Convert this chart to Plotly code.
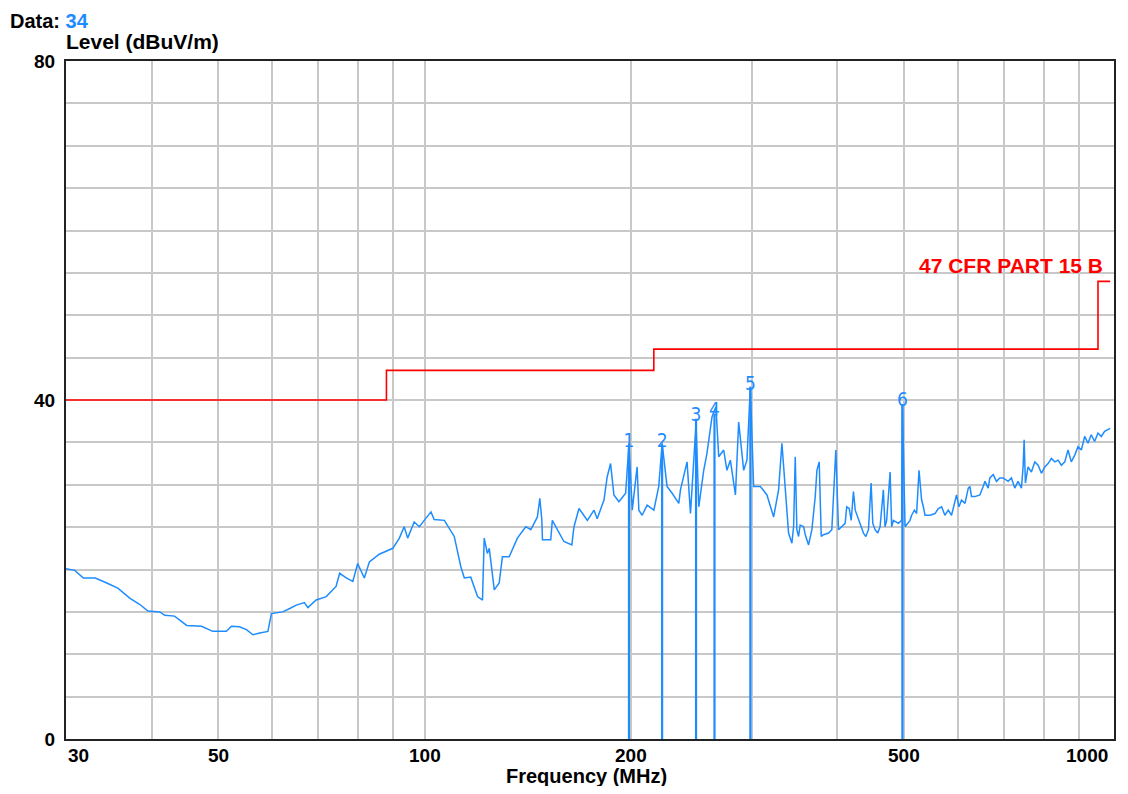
import numpy as np
import plotly.graph_objects as go

# ---- measured trace (MHz, dBuV/m) ----
freq = [30, 30.9, 31.8, 33.1, 34.4, 35.7, 37.2, 38.4, 39.5, 41.1, 41.8, 43.2, 45.0, 47.3, 49.1, 51.4,
        52.3, 53.7, 55.0, 56.2, 57.5, 59.1, 59.8, 62.1, 63.6, 65.0, 66.8, 67.6, 69.5, 71.9, 74.3, 75.2,
        76.9, 78.6, 79.9, 81.7, 83.1, 85.9, 89.9,
        91.9, 93.4, 94.5, 96.6, 98.3, 99.9, 102.2, 103.3, 106.9, 110.5, 113.0, 114.3, 116.8, 119.5, 121.5,
        122.2, 123.5, 124.3, 126.4, 128.5, 129.9, 132.9, 136.6, 140.5, 142.9, 144.5, 146.1, 147.3, 148.3,
        148.6, 152.8, 153.6, 156.2, 159.7, 164.0, 165.2, 168.0, 172.8, 176.7, 178.6, 182.7, 184.7, 186.8,
        188.9,
        192.1, 196.5, 198.7, 200.9, 204.2, 205.4, 207.7, 211.2, 216.0, 219.6, 222.1, 225.8, 229.7, 234.9,
        236.2, 241.5, 244.3, 247.0, 248.9, 251.2, 255.4, 258.2, 261.2, 262.6, 264.8, 266.1, 268.6, 273.1,
        276.1, 279.3, 284.1, 287.2, 292.1, 295.3, 298.7, 302.0, 308.9, 315.8, 323.0,
        328.4, 332.1, 335.8, 337.7, 339.6, 343.4, 345.4, 347.3, 349.2, 351.2, 353.1, 357.2, 359.2, 363.2,
        367.3, 371.4, 373.5, 376.4, 379.0, 381.9, 388.4, 392.7, 395.1, 398.0, 401.6, 405.9, 410.7, 412.8,
        416.3, 419.1, 422.3, 424.8, 429.4, 433.4, 436.7, 440.2, 444.1, 448.1, 450.6, 454.1, 458.2, 461.8,
        466.9, 469.5, 472.1, 477.6, 480.1, 482.9, 491.0, 496.5, 497.7, 502.2, 510.6, 513.4, 518.2, 522.1,
        526.3, 530.9, 534.0, 537.0, 546.1, 555.3,
        561.6, 567.8, 574.1, 580.7, 587.0, 593.7, 597.0, 601.8, 607.1, 614.1, 621.0, 624.4, 627.7, 635.0,
        645.7, 652.8, 656.8, 663.9, 667.7, 675.2, 682.7, 690.3, 698.1, 709.9, 717.8, 725.9, 734.1, 742.3,
        746.5, 749.1, 752.3, 759.1, 767.6, 776.5, 785.1, 793.8, 802.9, 811.9, 820.9, 830.4, 839.6, 848.9,
        858.6, 868.1, 877.8, 887.8, 897.7, 907.9, 918.0, 928.3, 938.5, 949.1, 959.9, 970.5, 981.6, 1000]
level = [20.1, 19.9, 19.0, 19.0, 18.4, 17.8, 16.6, 15.9, 15.1, 15.0, 14.6, 14.5, 13.4, 13.3, 12.7, 12.7,
         13.3, 13.25, 12.9, 12.3, 12.5, 12.7, 14.8, 15.0, 15.4, 15.8, 16.1, 15.5, 16.4, 16.8, 18.0, 19.55,
         19.0, 18.6, 20.7, 19.0, 20.9, 21.8, 22.5,
         23.7, 25.05, 23.7, 25.6, 25.05, 25.8, 26.8, 25.9, 25.8, 23.9, 20.3, 19.0, 19.1, 16.8, 16.4,
         23.7, 21.9, 22.5, 17.6, 18.4, 21.5, 21.5, 23.7, 25.05, 24.7, 25.45, 26.2, 28.4, 25.8,
         23.5, 23.5, 25.8, 24.7, 23.3, 22.9, 25.05, 27.2, 25.8, 27.0, 26.0, 28.2, 30.95, 32.5,
         28.8,
         28.0, 29.0, 34.9, 27.0, 32.1, 27.0, 26.4, 27.6, 27.0, 29.8, 34.9, 29.8, 29.0, 27.8,
         29.4, 32.7, 26.6, 32.9, 37.25, 27.4, 31.7, 33.7, 36.5, 38.0, 38.8, 39.2, 33.3, 34.1,
         31.7, 32.9, 28.8, 37.4, 31.7, 32.9, 41.6, 29.8, 29.8, 28.8, 26.2,
         29.4, 34.9, 29.8, 26.2, 24.3, 23.1, 25.05, 33.3, 24.7, 23.9, 25.25, 25.05, 24.1, 22.9,
         24.7, 28.6, 31.7, 32.7, 23.9, 24.1, 24.3, 24.7, 29.8, 34.1, 24.7, 25.05, 25.45, 27.4,
         27.2, 25.8, 29.2, 27.0, 25.8, 25.05, 24.3, 23.9, 24.7, 30.2, 25.45, 24.7, 24.3, 25.05,
         29.4, 25.05, 25.8, 31.5, 25.05, 25.8, 25.45, 25.8, 39.5, 25.05, 25.8, 26.4, 27.0, 26.6,
         31.7, 28.2, 27.4, 26.4, 26.4, 26.6,
         27.2, 27.4, 26.4, 27.0, 26.4, 27.8, 28.8, 27.4, 28.2, 27.8, 29.6, 29.8, 28.6, 28.6,
         28.8, 29.8, 30.4, 29.6, 30.8, 31.2, 30.4, 30.8, 30.8, 30.4, 30.8, 29.6, 30.4, 29.6,
         32.1, 35.3, 30.2, 32.1, 31.5, 32.7, 32.3, 31.35, 32.1, 32.5, 33.1, 32.7, 32.9, 32.3,
         32.7, 34.1, 32.7, 33.5, 34.5, 34.1, 35.7, 34.9, 35.9, 35.1, 36.1, 35.7, 36.3, 36.65]

# ---- limit line: 47 CFR Part 15 B ----
limit_freq = [30, 88, 88, 216, 216, 960, 960, 1000]
limit_level = [40, 40, 43.5, 43.5, 46, 46, 54, 54]
limit_name = "47 CFR PART 15 B"

# ---- markers ----
marker_label = ["1", "2", "3", "4", "5", "6"]
marker_freq = [198.7, 222.1, 248.9, 264.8, 298.7, 497.7]
marker_level = [34.7, 34.7, 37.8, 38.4, 41.5, 39.5]

# ---- axis ticks ----
x_grid = [40, 50, 60, 70, 80, 90, 100, 200, 300, 400, 500, 600, 700, 800, 900]
x_labels = [30, 50, 100, 200, 500, 1000]
y_grid = list(range(0, 81, 5))
y_labels = {0: "0", 40: "40", 80: "80"}

BLUE = "#1E8CFF"
RED = "#FF0000"
FONT = "Liberation Sans, Arial, sans-serif"

fig = go.Figure()

# markers' vertical lines
mx, my = [], []
for f, v in zip(marker_freq, marker_level):
    mx += [f, f, None]
    my += [0, v, None]
fig.add_trace(go.Scatter(x=mx, y=my, mode="lines", line=dict(color=BLUE, width=2.2),
                         hoverinfo="skip", showlegend=False))

fig.add_trace(go.Scatter(x=freq, y=level, mode="lines", line=dict(color=BLUE, width=1.5),
                         showlegend=False))

fig.add_trace(go.Scatter(x=limit_freq, y=limit_level, mode="lines", line=dict(color=RED, width=1.6),
                         showlegend=False))

fig.add_trace(go.Scatter(x=marker_freq, y=[v + 0.3 for v in marker_level], mode="text",
                         text=marker_label, textposition="middle center",
                         textfont=dict(family="Liberation Sans Narrow, DejaVu Sans Condensed, sans-serif",
                                       size=19, color=BLUE),
                         showlegend=False, hoverinfo="skip"))

annotations = []
for v in x_labels:
    anchor = "center"
    if v == x_labels[0]:
        anchor = "left"
    elif v == x_labels[-1]:
        anchor = "right"
    annotations.append(dict(x=np.log10(v), y=0, xref="x", yref="paper", text=str(v),
                            showarrow=False, xanchor=anchor, yanchor="top", yshift=-4,
                            font=dict(family=FONT, size=19, color="black", weight="bold")))

annotations += [
    dict(x=1.0, y=0.698, xref="paper", yref="paper", xanchor="right", yanchor="middle", xshift=-9,
         text=limit_name, showarrow=False, font=dict(family=FONT, size=21, color=RED, weight="bold")),
    dict(x=-0.002, y=1.029, xref="paper", yref="paper", xanchor="left", yanchor="middle",
         text="Level (dBuV/m)", showarrow=False, font=dict(family=FONT, size=21, color="black", weight="bold")),
    dict(x=-0.0555, y=1.059, xref="paper", yref="paper", xanchor="left", yanchor="middle",
         text="Data: <span style='color:#1E8CFF'>34</span>", showarrow=False,
         font=dict(family=FONT, size=20, color="black", weight="bold")),
    dict(x=0.497, y=-0.0546, xref="paper", yref="paper", xanchor="center", yanchor="middle",
         text="Frequency (MHz)", showarrow=False, font=dict(family=FONT, size=20, color="black", weight="bold")),
]

fig.update_layout(
    width=1112, height=778,
    margin=dict(l=58, r=4, t=53, b=47),
    paper_bgcolor="white", plot_bgcolor="white",
    annotations=annotations,
    showlegend=False,
)
fig.update_xaxes(type="log", range=[np.log10(30), np.log10(1013)],
                 tickvals=x_grid, ticktext=[""] * len(x_grid),
                 showgrid=True, gridcolor="#C8C8C8", gridwidth=1.5,
                 showline=True, mirror=True, linecolor="#222222", linewidth=2,
                 zeroline=False, ticks="")
fig.update_yaxes(range=[0, 80], tickvals=y_grid,
                 ticktext=[y_labels.get(v, "") for v in y_grid],
                 tickfont=dict(family=FONT, size=19, color="black", weight="bold"),
                 showgrid=True, gridcolor="#C8C8C8", gridwidth=1.5,
                 showline=True, mirror=True, linecolor="#222222", linewidth=2,
                 zeroline=False, ticks="", ticklabelstandoff=5)

fig.write_html("out.html")
